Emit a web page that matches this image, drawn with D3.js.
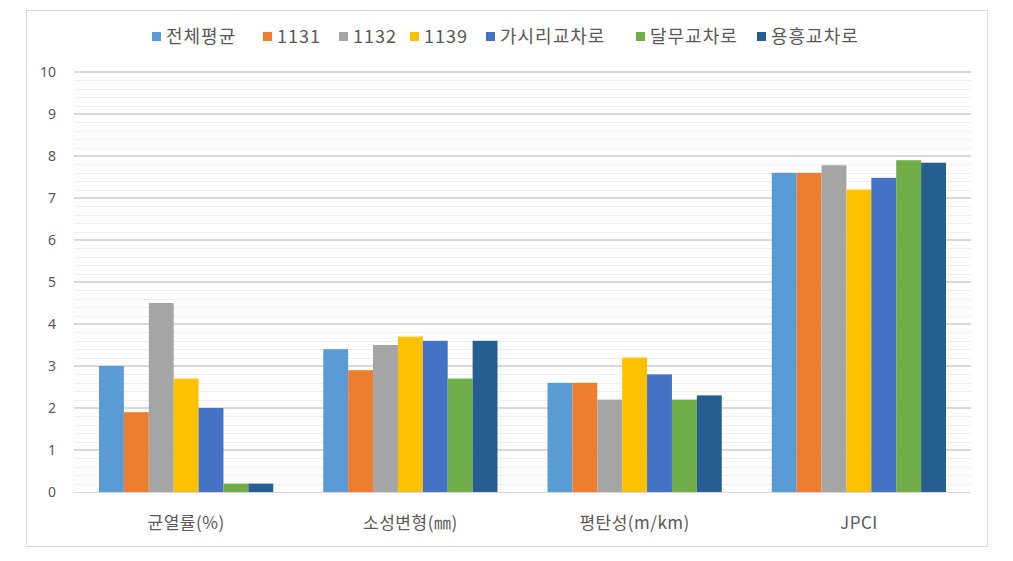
<!DOCTYPE html>
<html>
<head>
<meta charset="utf-8">
<script src="https://cdn.jsdelivr.net/npm/d3@7"></script>
<style>
  html, body { margin: 0; padding: 0; background: #fff; }
  svg { display: block; }
  text { font-family: "Noto Sans CJK KR", "Noto Sans", sans-serif; fill: #595959; }
</style>
</head>
<body>
<svg id="chart" width="1013" height="561"></svg>
<script>
const categories = ["균열률(%)", "소성변형(㎜)", "평탄성(m/km)", "JPCI"];
const seriesNames = ["전체평균", "1131", "1132", "1139", "가시리교차로", "달무교차로", "용흥교차로"];
const seriesColors = ["#5B9BD5", "#ED7D31", "#A5A5A5", "#FFC000", "#4472C4", "#70AD47", "#255E91"];
const values_전체평균 = [3.0, 3.4, 2.6, 7.6];
const values_1131 = [1.9, 2.9, 2.6, 7.6];
const values_1132 = [4.5, 3.5, 2.2, 7.78];
const values_1139 = [2.7, 3.7, 3.2, 7.2];
const values_가시리교차로 = [2.0, 3.6, 2.8, 7.48];
const values_달무교차로 = [0.2, 2.7, 2.2, 7.9];
const values_용흥교차로 = [0.2, 3.6, 2.3, 7.84];
const yTicks = [0, 1, 2, 3, 4, 5, 6, 7, 8, 9, 10];

const seriesValues = [values_전체평균, values_1131, values_1132, values_1139, values_가시리교차로, values_달무교차로, values_용흥교차로];

const svg = d3.select("#chart");

// outer frame
svg.append("rect")
  .attr("x", 26.5).attr("y", 10.5)
  .attr("width", 961).attr("height", 536)
  .attr("fill", "#fff").attr("stroke", "#d9d9d9").attr("stroke-width", 1);

const plot = { left: 74, right: 971, top: 72, bottom: 492 };

const y = d3.scaleLinear().domain([0, 10]).range([plot.bottom, plot.top]);
const x0 = d3.scaleBand().domain(categories).range([plot.left, plot.right]).padding(0);
const gap = x0.bandwidth() * 0.223;
const x1 = d3.scaleBand().domain(seriesNames).range([gap / 2, x0.bandwidth() - gap / 2]).padding(0);

// minor grid
const minor = d3.range(1, 50).map(i => i * 0.2).filter(v => Math.abs(v - Math.round(v)) > 1e-6);
svg.append("g").selectAll("line").data(minor).join("line")
  .attr("x1", plot.left).attr("x2", plot.right)
  .attr("y1", d => Math.round(y(d)) + 0.5).attr("y2", d => Math.round(y(d)) + 0.5)
  .attr("stroke", "#efefef").attr("stroke-width", 1);

// major grid
svg.append("g").selectAll("line").data(yTicks.filter(d => d > 0)).join("line")
  .attr("x1", plot.left).attr("x2", plot.right)
  .attr("y1", d => y(d)).attr("y2", d => y(d))
  .attr("stroke", "#d9d9d9").attr("stroke-width", 2);

// y axis labels
const yAxis = d3.axisLeft(y).tickValues(yTicks).tickSize(0).tickPadding(0).tickFormat(d3.format("d"));
const yg = svg.append("g").attr("transform", `translate(56,0)`).call(yAxis);
yg.select(".domain").remove();
yg.selectAll("text").attr("font-size", 14).attr("fill", "#595959")
  .style("font-family", '"Noto Sans", sans-serif');

// bars
const groups = svg.append("g").selectAll("g").data(categories).join("g")
  .attr("transform", d => `translate(${x0(d)},0)`);
groups.selectAll("rect")
  .data((c, ci) => seriesNames.map((s, si) => ({ s, si, v: seriesValues[si][ci] })))
  .join("rect")
  .attr("x", d => x1(d.s))
  .attr("width", x1.bandwidth())
  .attr("y", d => y(d.v))
  .attr("height", d => y(0) - y(d.v))
  .attr("fill", d => seriesColors[d.si]);

// baseline
svg.append("line")
  .attr("x1", plot.left).attr("x2", plot.right)
  .attr("y1", y(0) + 0.5).attr("y2", y(0) + 0.5)
  .attr("stroke", "#d9d9d9").attr("stroke-width", 1);

// x axis labels
const xAxis = d3.axisBottom(x0).tickSize(0).tickPadding(0);
const xg = svg.append("g").attr("transform", `translate(0,${plot.bottom + 37})`).call(xAxis);
xg.select(".domain").remove();
xg.selectAll("text").attr("font-size", 17).attr("fill", "#595959").attr("dy", 0)
  .attr("letter-spacing", 0.5)
  .style("font-family", '"Noto Sans CJK KR", sans-serif');

// legend
const legendX = [152, 263, 339, 410, 486, 636, 757];
const lg = svg.append("g").selectAll("g").data(seriesNames).join("g")
  .attr("transform", (d, i) => `translate(${legendX[i]},37)`);
lg.append("rect").attr("x", 0).attr("y", -5).attr("width", 9).attr("height", 9)
  .attr("fill", (d, i) => seriesColors[i]);
lg.append("text").attr("x", 14).attr("y", 0).attr("dy", "0.35em")
  .attr("font-size", 18).attr("letter-spacing", 1).text(d => d);
</script>
</body>
</html>
